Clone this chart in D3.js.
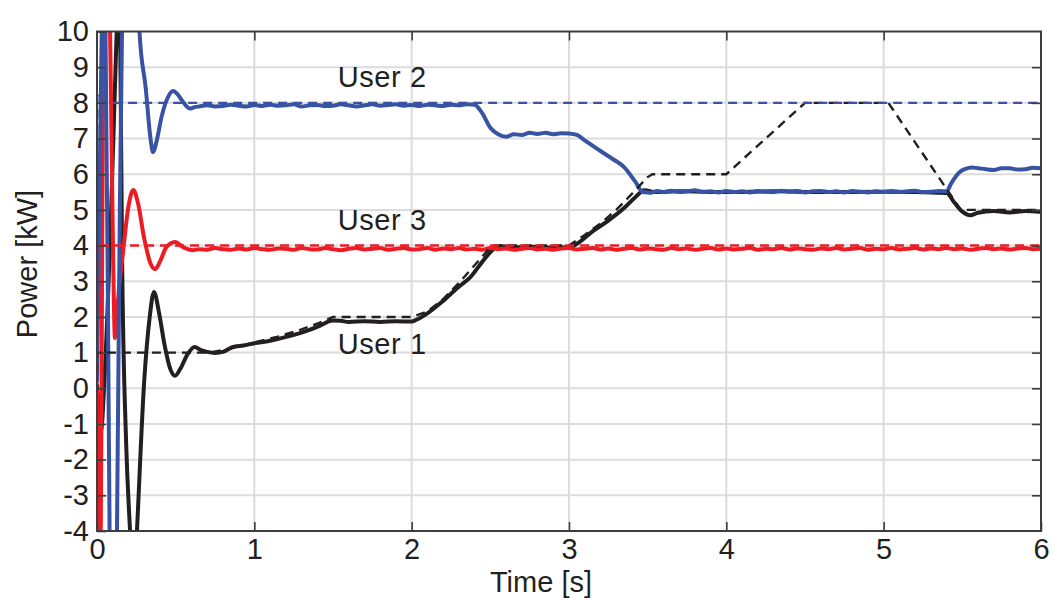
<!DOCTYPE html>
<html>
<head>
<meta charset="utf-8">
<script src="https://cdn.jsdelivr.net/npm/d3@7"></script>
<style>
  html, body { margin: 0; padding: 0; background: #fff; }
  svg { display: block; font-family: "Liberation Sans", Arial, Helvetica, sans-serif; }
</style>
</head>
<body>
<svg id="chart" width="1055" height="600"></svg>
<script>
// ---------------- data (time [s], power [kW]) ----------------
const xTicks = [0, 1, 2, 3, 4, 5, 6];
const yTicks = [-4, -3, -2, -1, 0, 1, 2, 3, 4, 5, 6, 7, 8, 9, 10];

const user1Ref = [[0,0],[0.004,1.0],[0.72,1.0],[0.85,1.12],[1.0,1.28],[1.15,1.45],[1.3,1.65],[1.42,1.85],[1.5,2.0],
  [2.0,2.0],[2.1,2.15],[2.2,2.5],[2.3,2.95],[2.4,3.45],[2.5,3.95],[2.52,4.0],[3.0,4.0],[3.1,4.3],[3.2,4.62],
  [3.3,5.0],[3.4,5.45],[3.5,5.92],[3.53,6.0],[4.0,6.0],[4.5,8.0],[5.03,8.0],[5.49,5.0],[6,5.0]];
const user2Ref = [[0,0],[0.002,8.2],[0.015,8.25],[0.025,8.1],[0.04,8.0],[6,8.0]];
const user3Ref = [[0,0],[0.002,4.1],[0.02,4.05],[0.04,4.0],[6,4.0]];

const user1 = [[0,0.1],[0.012,-0.6],[0.025,-1.2],[0.05,0.5],[0.09,5],[0.125,10],[0.137,11.5],[0.147,10],[0.159,3.87],
  [0.185,-1.5],[0.21,-4],[0.232,-6],[0.254,-4],[0.3,0.2],[0.335,2.0],[0.362,2.7],[0.395,2.1],[0.43,1.2],[0.465,0.55],
  [0.496,0.35],[0.53,0.55],[0.575,0.95],[0.62,1.16],[0.66,1.07],[0.7,1.02],[0.75,0.99],[0.8,1.02],[0.86,1.15],[0.93,1.2],
  [1.0,1.26],[1.1,1.33],[1.2,1.44],[1.3,1.56],[1.4,1.72],[1.5,1.9],[1.55,1.89],[1.6,1.86],[1.7,1.88],[1.8,1.86],[1.9,1.88],
  [2.0,1.87],[2.03,1.92],[2.1,2.1],[2.2,2.45],[2.3,2.85],[2.37,3.1],[2.45,3.55],[2.52,3.9],[2.56,3.98],[2.7,3.95],[2.8,3.97],
  [2.9,3.94],[3.0,3.95],[3.05,4.05],[3.15,4.4],[3.25,4.7],[3.35,5.05],[3.42,5.35],[3.48,5.55],[3.55,5.5],[3.7,5.52],[4.0,5.5],
  [4.3,5.52],[4.6,5.5],[5.0,5.51],[5.4,5.47],[5.45,5.2],[5.5,4.95],[5.55,4.85],[5.6,4.92],[5.7,4.97],[5.8,4.93],[5.9,4.97],[6,4.94]];

const user2 = [[0,0.2],[0.015,5],[0.03,10],[0.042,12],[0.054,10],[0.07,2],[0.08,-4],[0.095,-8],[0.112,-8],[0.127,-4],
  [0.145,5],[0.159,10],[0.19,15],[0.23,15],[0.27,10],[0.31,8.4],[0.34,7.0],[0.356,6.62],[0.38,6.95],[0.41,7.6],[0.45,8.15],
  [0.483,8.33],[0.51,8.25],[0.538,8.08],[0.57,7.9],[0.59,7.84],[0.62,7.88],[0.65,7.9],[0.7,7.93],[0.75,7.9],[0.8,7.91],[0.85,7.95],[0.9,7.92],
  [0.95,7.9],[1.0,7.94],[1.05,7.91],[1.1,7.95],[1.15,7.92],[1.2,7.93],[1.25,7.96],[1.3,7.9],[1.35,7.93],[1.4,7.94],[1.45,7.91],[1.5,7.92],
  [1.55,7.96],[1.6,7.93],[1.65,7.9],[1.7,7.93],[1.75,7.96],[1.8,7.92],[1.85,7.94],[1.9,7.96],[1.95,7.92],[2.0,7.94],
  [2.05,7.91],[2.1,7.95],[2.15,7.93],[2.2,7.91],[2.25,7.95],[2.3,7.93],[2.35,7.96],[2.4,7.95],[2.45,7.7],[2.5,7.3],[2.55,7.12],[2.6,7.05],[2.65,7.12],[2.7,7.1],[2.75,7.16],[2.8,7.13],
  [2.85,7.16],[2.9,7.12],[2.95,7.15],[3.0,7.14],[3.05,7.1],[3.1,6.95],[3.2,6.65],[3.28,6.42],[3.35,6.2],[3.42,5.8],[3.47,5.5],[3.52,5.48],[3.56,5.53],[3.6,5.5],
  [3.65,5.54],[3.7,5.5],[3.75,5.52],[3.8,5.55],[3.85,5.5],[3.9,5.52],[3.95,5.49],[4.0,5.53],[4.05,5.5],[4.1,5.52],[4.15,5.49],[4.2,5.53],[4.25,5.51],[4.3,5.5],[4.35,5.54],[4.4,5.51],[4.45,5.53],[4.5,5.49],
  [4.55,5.52],[4.6,5.53],[4.65,5.5],[4.7,5.52],[4.75,5.49],[4.8,5.53],[4.85,5.51],[4.9,5.49],[4.95,5.52],[5.0,5.5],[5.05,5.53],[5.1,5.5],[5.15,5.52],[5.2,5.54],[5.25,5.5],[5.3,5.51],[5.35,5.53],[5.4,5.52],[5.43,5.75],[5.48,6.05],[5.52,6.15],[5.56,6.19],[5.6,6.17],
  [5.65,6.14],[5.7,6.12],[5.75,6.17],[5.8,6.17],[5.85,6.13],[5.9,6.14],[5.95,6.18],[6,6.17]];

const user3 = [[0,0],[0.006,-3],[0.01,-5],[0.016,-6],[0.024,-4],[0.032,3],[0.04,10],[0.05,13],[0.06,14],[0.072,12.5],
  [0.083,10],[0.1,4.5],[0.114,1.41],[0.125,2.0],[0.14,2.8],[0.165,3.8],[0.2,5.1],[0.231,5.56],[0.26,5.2],[0.3,4.2],
  [0.34,3.5],[0.369,3.34],[0.4,3.55],[0.44,3.95],[0.496,4.1],[0.55,3.95],[0.61,3.87],[0.65,3.9],[0.7,3.88],[0.75,3.93],[0.8,3.9],
  [0.85,3.88],[0.9,3.92],[0.95,3.89],[1.0,3.93],[1.05,3.9],[1.1,3.88],[1.15,3.92],[1.2,3.91],[1.25,3.88],[1.3,3.93],[1.35,3.9],[1.4,3.89],[1.45,3.93],[1.5,3.9],
  [1.55,3.87],[1.6,3.91],[1.65,3.93],[1.7,3.89],[1.75,3.91],[1.8,3.93],[1.85,3.88],[1.9,3.91],[1.95,3.93],[2.0,3.89],[2.05,3.9],[2.1,3.93],[2.15,3.88],[2.2,3.92],
  [2.25,3.9],[2.3,3.93],[2.35,3.89],[2.4,3.91],[2.45,3.88],[2.5,3.93],[2.55,3.9],[2.6,3.92],[2.65,3.88],[2.7,3.91],[2.75,3.93],[2.8,3.89],[2.85,3.91],[2.9,3.88],[2.95,3.92],[3.0,3.93],
  [3.05,3.89],[3.1,3.91],[3.15,3.93],[3.2,3.89],[3.25,3.92],[3.3,3.88],[3.35,3.91],[3.4,3.93],[3.45,3.89],[3.5,3.92],[3.55,3.9],[3.6,3.88],[3.65,3.93],[3.7,3.9],[3.75,3.92],[3.8,3.88],
  [3.85,3.91],[3.9,3.93],[3.95,3.89],[4.0,3.92],[4.05,3.89],[4.1,3.91],[4.15,3.93],[4.2,3.88],[4.25,3.91],[4.3,3.9],[4.35,3.93],[4.4,3.89],[4.45,3.92],[4.5,3.9],[4.55,3.88],[4.6,3.92],
  [4.65,3.9],[4.7,3.93],[4.75,3.89],[4.8,3.91],[4.85,3.93],[4.9,3.88],[4.95,3.91],[5.0,3.9],[5.05,3.93],[5.1,3.89],[5.15,3.91],[5.2,3.93],[5.25,3.89],[5.3,3.92],[5.35,3.9],[5.4,3.93],
  [5.45,3.9],[5.5,3.92],[5.55,3.88],[5.6,3.91],[5.65,3.93],[5.7,3.9],[5.75,3.92],[5.8,3.89],[5.85,3.92],[5.9,3.93],[5.95,3.9],[6,3.91]];

const labelText = ["User 2", "User 3", "User 1"];

// ---------------- drawing ----------------
const svg = d3.select("#chart");
const L = 97, R = 1041, T = 31.5, B = 531;
const x = d3.scaleLinear().domain([0, 6]).range([L, R]);
const y = d3.scaleLinear().domain([-4, 10]).range([B, T]);

const textColor = "#231f20";
const axisColor = "#3d3d3d";
const gridColor = "#dcdcdc";

svg.append("defs").append("clipPath").attr("id", "clip")
  .append("rect").attr("x", L).attr("y", T).attr("width", R - L).attr("height", B - T);

// grid
const grid = svg.append("g");
grid.selectAll("line.gx").data(xTicks.slice(1, -1)).enter().append("line")
  .attr("x1", d => x(d)).attr("x2", d => x(d)).attr("y1", T).attr("y2", B)
  .attr("stroke", gridColor).attr("stroke-width", 2);
grid.selectAll("line.gy").data(yTicks.slice(1, -1)).enter().append("line")
  .attr("x1", L).attr("x2", R).attr("y1", d => y(d)).attr("y2", d => y(d))
  .attr("stroke", gridColor).attr("stroke-width", 2);

// lines
const plot = svg.append("g").attr("clip-path", "url(#clip)");
const line = d3.line().x(d => x(d[0])).y(d => y(d[1])).curve(d3.curveMonotoneX);
const lineLin = d3.line().x(d => x(d[0])).y(d => y(d[1]));

const colBlack = "#231f20", colRed = "#ed1c24", colBlue = "#3953a4";

plot.append("path").datum(user1).attr("d", line).attr("fill", "none")
  .attr("stroke", colBlack).attr("stroke-width", 4).attr("stroke-linejoin", "round");
plot.append("path").datum(user3).attr("d", line).attr("fill", "none")
  .attr("stroke", colRed).attr("stroke-width", 4).attr("stroke-linejoin", "round");
plot.append("path").datum(user2).attr("d", line).attr("fill", "none")
  .attr("stroke", colBlue).attr("stroke-width", 4).attr("stroke-linejoin", "round");

plot.append("path").datum(user1Ref).attr("d", lineLin).attr("fill", "none")
  .attr("stroke", colBlack).attr("stroke-width", 2.4).attr("stroke-dasharray", "9,6");
plot.append("path").datum(user3Ref).attr("d", lineLin).attr("fill", "none")
  .attr("stroke", colRed).attr("stroke-width", 2.4).attr("stroke-dasharray", "9,6");
plot.append("path").datum(user2Ref).attr("d", lineLin).attr("fill", "none")
  .attr("stroke", colBlue).attr("stroke-width", 2.4).attr("stroke-dasharray", "9,6");

// axes (inside ticks, box)
function styleAxis(g, showLabels) {
  g.select(".domain").remove();
  g.selectAll(".tick line").attr("stroke", axisColor).attr("stroke-width", 1.6);
  g.selectAll(".tick text").attr("fill", textColor).attr("font-size", 29)
    .attr("font-family", "'Liberation Sans', Arial, sans-serif");
  if (!showLabels) g.selectAll(".tick text").remove();
}
const fmt = d => String(d);
svg.append("g").attr("transform", `translate(0,${B})`)
  .call(d3.axisBottom(x).tickValues(xTicks).tickSize(-9).tickPadding(7).tickFormat(fmt))
  .call(g => styleAxis(g, true));
svg.append("g").attr("transform", `translate(0,${T})`)
  .call(d3.axisTop(x).tickValues(xTicks.slice(1, -1)).tickSize(-9))
  .call(g => styleAxis(g, false));
svg.append("g").attr("transform", `translate(${L},0)`)
  .call(d3.axisLeft(y).tickValues(yTicks).tickSize(-9).tickPadding(8).tickFormat(fmt))
  .call(g => styleAxis(g, true));
svg.append("g").attr("transform", `translate(${R},0)`)
  .call(d3.axisRight(y).tickValues(yTicks.slice(1, -1)).tickSize(-9))
  .call(g => styleAxis(g, false));

svg.append("rect").attr("x", L).attr("y", T).attr("width", R - L).attr("height", B - T)
  .attr("fill", "none").attr("stroke", axisColor).attr("stroke-width", 2);

// axis titles
svg.append("text").attr("x", 541).attr("y", 592).attr("text-anchor", "middle")
  .attr("font-size", 29).attr("fill", textColor).text("Time [s]");
svg.append("text").attr("transform", "translate(37,264) rotate(-90)").attr("text-anchor", "middle")
  .attr("font-size", 29).attr("fill", textColor).text("Power [kW]");

// series labels
const labelPos = [[labelText[0], 1.53, 87], [labelText[1], 1.53, 230], [labelText[2], 1.53, 354]];
svg.selectAll("text.ulab").data(labelPos).enter().append("text")
  .attr("x", d => x(d[1])).attr("y", d => d[2])
  .attr("font-size", 29).attr("letter-spacing", 0.6).attr("fill", textColor).text(d => d[0]);
</script>
</body>
</html>
